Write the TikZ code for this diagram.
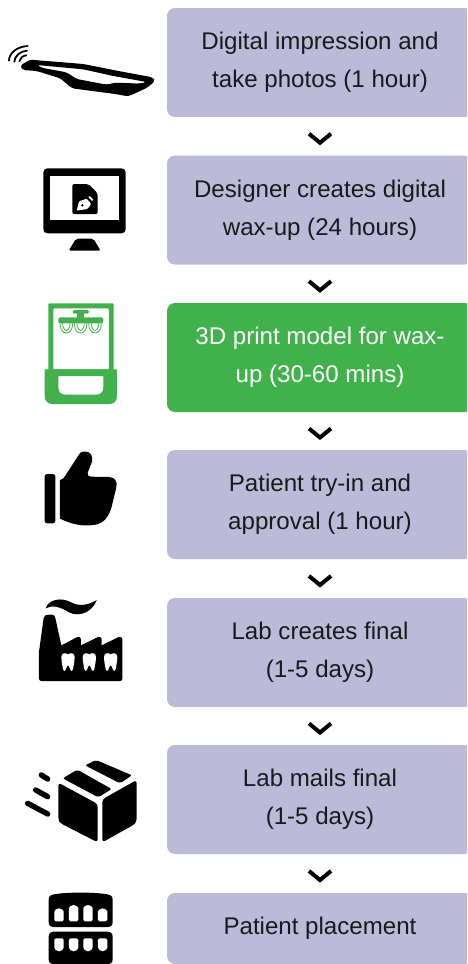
\documentclass[tikz,border=0pt]{standalone}
\usepackage{fontspec}
\usetikzlibrary{calc}
\setmainfont{Liberation Sans}
\definecolor{boxlav}{HTML}{BBBAD8}
\definecolor{boxgreen}{HTML}{40B14B}
\definecolor{ink}{HTML}{1A1A1A}
\newcommand{\sa}{\rule[-5pt]{0pt}{22pt}}
\tikzset{
  stepbox/.style={fill=boxlav,rounded corners=8pt,minimum width=306pt,minimum height=109pt,inner sep=0pt,
    align=center,text=ink,font=\fontsize{24.1}{38}\selectfont},
  stepgreen/.style={stepbox,fill=boxgreen,text=white},
  chev/.style={draw=black,line width=4pt,line cap=butt,line join=miter},
  ic/.style={x=0.33333pt,y=-0.33333pt},
  pic1/.style={ic},
  pic2/.style={ic,shift={(0pt,-290pt)}},
  pic3/.style={ic,shift={(0pt,-590pt)}},
  tooth/.pic={\fill[white] (-20,-14) .. controls (-20,-27) and (-8,-29) .. (0,-23) .. controls (8,-29) and (20,-27) .. (20,-14) .. controls (20,-4) and (18,2) .. (17,10) .. controls (16,18) and (15,27) .. (11,27) .. controls (6,27) and (4,10) .. (0,10) .. controls (-4,10) and (-6,27) .. (-11,27) .. controls (-15,27) and (-16,18) .. (-17,10) .. controls (-18,2) and (-20,-4) .. (-20,-14) -- cycle;},
  crown/.pic={\draw[boxgreen,line width=0.9pt,dash pattern=on 1.6pt off 0.4pt] (-19,0) .. controls (-19,19) and (-10,29) .. (0,29) .. controls (10,29) and (19,19) .. (19,0) (-11,0) .. controls (-11,12) and (-6,21) .. (0,21) .. controls (6,21) and (11,12) .. (11,0);},
}
\newcommand{\chevron}[2]{\coordinate (m#1#2) at ($(#1.south)!0.5!(#2.north)$);
  \draw[chev] ($(m#1#2)+(-11,-2.5)$) -- ($(m#1#2)+(0,6.5)$) -- ($(m#1#2)+(11,-2.5)$);}
\begin{document}
\begin{tikzpicture}[x=1pt,y=-1pt]
\useasboundingbox (0,0) rectangle (467,964);
\clip (0,0) rectangle (467,964);
% boxes
\node[stepbox] (s1) at (320,62.5) {\sa Digital impression and\\\sa take photos (1 hour)};
\node[stepbox] (s2) at (320,210) {\sa Designer creates digital\\\sa wax-up (24 hours)};
\node[stepgreen] (s3) at (320,357.5) {\sa 3D print model for wax-\\\sa up (30-60 mins)};
\node[stepbox] (s4) at (320,504.5) {\sa Patient try-in and\\\sa approval (1 hour)};
\node[stepbox] (s5) at (320,652.5) {\sa Lab creates final\\\sa (1-5 days)};
\node[stepbox] (s6) at (320,799.5) {\sa Lab mails final\\\sa (1-5 days)};
\node[stepbox,minimum height=71pt] (s7) at (320,928.5) {\sa Patient placement};
% chevrons
\chevron{s1}{s2}
\chevron{s2}{s3}
\chevron{s3}{s4}
\chevron{s4}{s5}
\chevron{s5}{s6}
\chevron{s6}{s7}
% scanner
\begin{scope}[pic1]
\fill[black,even odd rule,rounded corners=3pt]
 (60,197) -- (90,179) -- (250,192) -- (350,212) -- (458,232) -- (466,243) -- (440,264) -- (385,289) -- (345,282) -- (216,265) -- (181,235) -- (110,213) -- (68,210) -- cycle
 (110,195) -- (250,208) -- (340,228) -- (440,246) -- (418,251) -- (378,249) -- (345,248) -- (320,254) -- (230,237) -- (200,217) -- (128,204) -- cycle;
\draw[black,line width=1.8pt,line cap=round]
 (27,182) .. controls (27,160) and (50,140) .. (83,138)
 (43,185) .. controls (43,170) and (60,153) .. (81,152)
 (58,184) .. controls (60,175) and (68,167) .. (79,166);
% monitor
\fill[black,rounded corners=4pt] (130,505) rectangle (377,700);
\fill[white] (150,527) rectangle (357,660);
\fill[black,rounded corners=2pt] (228,716) -- (280,716) -- (302,752) -- (206,752) -- cycle;
\fill[black,rounded corners=2pt] (217,552) -- (265,552) -- (293,580) -- (293,642) -- (217,642) -- cycle;
\fill[white,rounded corners=1pt] (230,632) -- (237,604) -- (260,596) -- (274,612) -- (262,627) -- cycle;
\fill[black] (247,616) circle (4);
\draw[white,line width=1.8pt,line cap=round] (268,591) -- (277,600);
\end{scope}
% printer
\begin{scope}[pic2]
\fill[boxgreen,even odd rule,rounded corners=1pt] (145,40) rectangle (341,245) (160,55) rectangle (327,238);
\fill[boxgreen,even odd rule]
 (134,238) -- (351,238) -- (351,318) .. controls (351,334) and (342,342) .. (326,342) -- (159,342) .. controls (143,342) and (134,334) .. (134,318) -- cycle
 (175,258) -- (310,258) -- (310,292) .. controls (310,306) and (302,314) .. (288,314) -- (197,314) .. controls (183,314) and (175,306) .. (175,292) -- cycle;
\fill[boxgreen,rounded corners=2pt] (175,82) rectangle (310,100);
\fill[boxgreen,rounded corners=2pt] (218,60) rectangle (267,71);
\fill[boxgreen] (232,70) rectangle (252,83);
\path (199,100) pic {crown} (242,100) pic {crown} (285,100) pic {crown};
% thumb
\fill[black,rounded corners=2.5pt] (134,552) rectangle (166,700);
\fill[black] (180,570) .. controls (188,568) and (192,564) .. (196,557) -- (238,492)
 .. controls (250,476) and (282,484) .. (276,515) -- (263,548) .. controls (262,556) and (265,560) .. (272,560) -- (328,561)
 .. controls (345,562) and (353,575) .. (349,592) -- (335,650) .. controls (322,695) and (300,706) .. (265,706) -- (250,706)
 .. controls (220,704) and (200,695) .. (180,686) -- cycle;
\end{scope}
% factory
\begin{scope}[pic3]
\fill[black] (117,266) -- (117,185) -- (131,84) .. controls (132,75) and (140,74) .. (148,74) .. controls (158,74) and (164,74) .. (166,84)
 -- (184,166) -- (232,141) .. controls (238,138) and (243,142) .. (243,148) -- (243,166) -- (294,141) .. controls (300,138) and (305,142) .. (305,148) -- (305,166) -- (356,141) .. controls (362,138) and (367,142) .. (367,148)
 -- (367,266) .. controls (367,270) and (364,273) .. (360,273) -- (124,273) .. controls (120,273) and (117,270) .. (117,266) -- cycle;
\fill[black] (137,55) .. controls (145,28) and (185,20) .. (215,38) .. controls (240,50) and (265,45) .. (290,30) .. controls (280,62) and (240,85) .. (205,66) .. controls (180,50) and (155,44) .. (137,55) -- cycle;
\path (204,216) pic {tooth} (268,216) pic {tooth} (332,216) pic {tooth};
% box
\fill[black,rounded corners=3pt] (175,578) -- (293,642) -- (293,757) -- (182,700) -- (175,690) -- cycle;
\fill[black,rounded corners=3pt] (307,628) -- (410,570) -- (410,695) -- (400,705) -- (307,757) -- cycle;
\fill[black,rounded corners=2pt] (188,565) -- (232,539) -- (335,597) -- (295,622) -- cycle;
\fill[black,rounded corners=2pt] (255,526) -- (288,510) -- (396,556) -- (360,580) -- cycle;
\draw[black,line width=5.4pt,line cap=round] (124,555) -- (143,567);
\draw[black,line width=5.4pt,line cap=round] (107,600) -- (143,620);
\draw[black,line width=5.4pt,line cap=round] (83,640) -- (143,672);
% dentures
\fill[black] (146,930) .. controls (146,918) and (152,915) .. (162,913) .. controls (200,906) and (285,906) .. (322,913) .. controls (332,915) and (338,918) .. (338,930) -- (338,996) .. controls (338,1006) and (332,1011) .. (322,1011) -- (162,1011) .. controls (152,1011) and (146,1006) .. (146,996) -- cycle;
\fill[black] (146,1040) .. controls (146,1030) and (152,1025) .. (162,1025) -- (322,1025) .. controls (332,1025) and (338,1030) .. (338,1040) -- (338,1108) .. controls (338,1118) and (332,1122) .. (322,1122) -- (162,1122) .. controls (152,1122) and (146,1118) .. (146,1108) -- cycle;
\foreach \xx/\tp in {177/955,221/945,264/945,308/955}{
  \fill[white,rounded corners=1.5pt] (\xx-14,994) -- (\xx-14,\tp+14) arc[start angle=180,end angle=0,x radius=14,y radius=-14] -- (\xx+14,994) -- cycle;
  \fill[white,rounded corners=1.5pt] (\xx-14,1045) -- (\xx+14,1045) -- (\xx+14,1068) arc[start angle=0,end angle=-180,x radius=14,y radius=-16] -- cycle;
}
\end{scope}
\end{tikzpicture}
\end{document}
